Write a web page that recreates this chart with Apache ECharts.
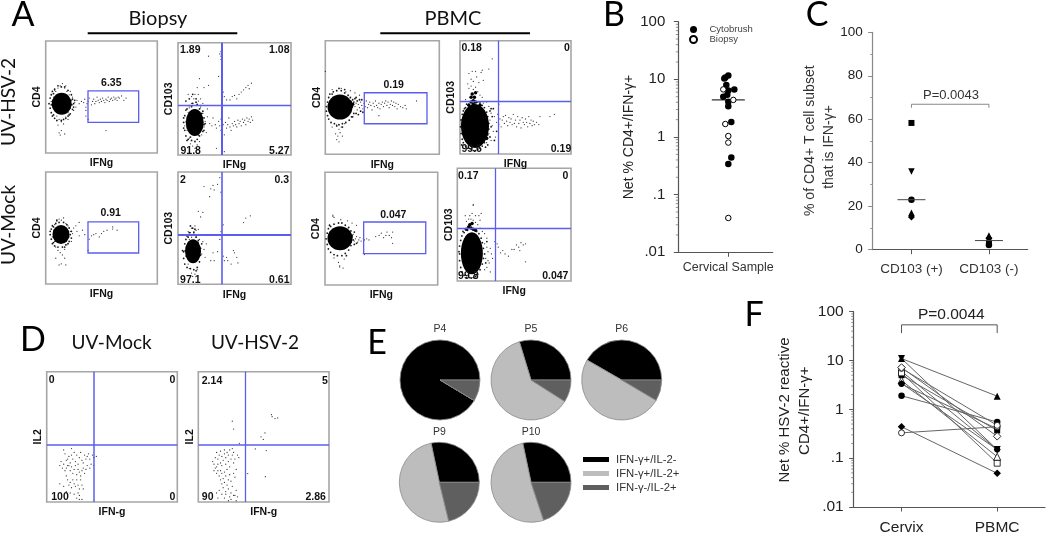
<!DOCTYPE html>
<html><head><meta charset="utf-8">
<style>html,body{margin:0;padding:0;background:#fff}#c{width:1050px;height:536px}</style>
<script src="https://cdn.jsdelivr.net/npm/echarts@6/dist/echarts.min.js"></script>
</head><body><div id="c"></div>
<script>
// ---------- flow panels: events, in percent of each plot box ----------
const a1Core=[[14.3,44]];
const a1Fringe=[[3,44],[4,40],[4,49],[5,36],[5,52],[6,33],[6,55],[8,31],[8,57],[10,29],[11,60],[14,29],[16,30],[18,31],[20,33],[22,35],[24,39],[24,48],[23,52],[20,56],[17,59],[14,59],[25,44],[26,47],[23,43],[25,41],[7,34],[5,43],[7,53],[21,34]];
const a1Dots=[[26,45],[28,47],[30,44],[32,46],[34,45],[35,48],[37,44],[38,46],[39,49],[41,43],[42,46],[43,48],[44,44],[45,46],[46,50],[47,47],[48,45],[49,48],[50,46],[51,49],[52,47],[53,45],[54,48],[55,47],[56,50],[57,46],[58,48],[59,49],[60,47],[61,50],[62,48],[63,49],[64,47],[65,50],[66,49],[68,51],[70,47],[72,49],[36,33],[38,30],[54,20],[6,42],[7,50],[8,38],[9,55],[10,33],[11,58],[12,30],[13,60],[14,28],[15,62],[16,26],[17,58],[18,32],[19,55],[20,36],[21,52],[22,40],[23,47],[24,43],[12,18],[13,16],[14,20],[17,17],[11,25],[25,38],[27,41],[5,46],[9,46],[22,55],[20,30],[18,60],[8,56],[24,50],[36,38],[36,41]];
const a2Core=[[14.8,29]];
const a2Fringe=[[5,29],[6,22],[6,35],[7,17],[7,40],[9,14],[10,44],[12,13],[13,46],[15,12],[17,14],[17,45],[19,17],[20,44],[22,21],[23,27],[23,33],[22,39],[5,33],[5,24],[8,13],[12,43],[16,47],[19,41],[21,37],[24,28],[8,41],[11,16],[18,18],[23,22],[13,54],[10,50],[16,50],[7,48]];
const a2Dots=[[7,30],[8,22],[9,38],[10,15],[10,42],[11,10],[12,46],[13,8],[14,50],[15,6],[16,44],[17,9],[18,48],[19,12],[20,42],[21,18],[22,37],[23,25],[24,30],[25,20],[26,34],[6,26],[8,44],[12,52],[15,54],[18,54],[20,50],[9,54],[17,60],[22,46],[24,44],[26,41],[28,28],[30,26],[31,33],[33,27],[34,24],[36,30],[37,26],[38,32],[38,22],[40,27],[41,18],[42,29],[43,24],[44,27],[45,33],[46,25],[47,22],[48,28],[49,26],[50,30],[51,27],[52,25],[53,31],[54,28],[55,30],[56,26],[57,32],[58,29],[59,31],[60,27],[61,33],[62,30],[63,32],[64,29],[65,34],[66,31],[34,6],[41,3],[27,62],[23,60],[19,68],[39,60],[40,56],[41,52],[39,50],[43,49],[46,49],[48,52],[50,53],[52,50],[54,54],[56,56],[58,58],[60,60],[62,62],[63,59],[65,64],[38,85],[38,88],[38,92],[37,90],[27,88],[36,70],[39,65]];
const a3Core=[[13.7,44.2]];
const a3Fringe=[[4,44],[5,40],[5,49],[6,36],[6,52],[8,34],[9,54],[11,33],[12,55],[15,33],[16,55],[18,35],[19,53],[21,38],[21,50],[22,44],[23,41],[23,47],[4,47],[7,51],[7,37],[10,57],[17,33],[20,36]];
const a3Dots=[[6,42],[7,48],[8,38],[8,53],[9,33],[10,56],[11,30],[12,58],[13,28],[14,57],[15,26],[16,59],[17,31],[18,54],[19,35],[20,52],[21,42],[22,47],[23,38],[24,45],[14,18],[12,17],[18,17],[25,50],[27,52],[28,47],[30,43],[30,55],[33,48],[35,44],[38,30],[39,40],[41,43],[43,44],[45,45],[48,42],[50,45],[52,47],[55,48],[60,49],[60,51],[64,48],[9,23],[17,23]];
const a4Core=[[13.3,29.4]];
const a4Fringe=[[5,29],[5,23],[6,36],[6,18],[7,40],[8,15],[9,42],[11,14],[12,44],[14,13],[16,42],[17,15],[18,39],[19,20],[20,32],[20,26],[21,36],[8,43],[10,46],[14,46],[4,30],[16,12],[13,50],[11,52],[15,49]];
const a4Dots=[[7,25],[8,34],[9,18],[10,40],[10,14],[11,46],[12,10],[12,50],[13,7],[14,47],[15,9],[15,52],[16,43],[17,13],[18,49],[19,20],[20,44],[21,27],[22,38],[23,31],[24,24],[25,36],[6,30],[9,47],[19,40],[12,42],[16,48],[18,37],[29,21],[31,28],[32,21],[35,29],[40,25],[41,21],[43,24],[44,21],[47,18],[50,28],[49,30],[52,24],[53,19],[38,47],[40,53],[37,40],[38,82],[23,87],[29,85],[31,88],[32,84],[28,78],[35,89],[37,95],[60,59],[58,55],[64,61],[20,60],[18,65],[22,64]];
const a5Core=[[12.9,41.6]];
const a5Mid=[[21,43],[23,42],[24,44],[20,40],[22,46]];
const a5Fringe=[[1,42],[1,38],[2,46],[2,34],[3,50],[3,31],[4,53],[5,28],[7,55],[8,27],[10,56],[12,26],[14,56],[15,27],[17,54],[18,28],[20,52],[21,30],[22,50],[23,33],[24,48],[25,36],[25,46],[26,49],[27,36],[28,47],[29,35],[30,48],[31,38],[32,48],[33,37],[27,50],[24,33],[6,53],[12,58],[17,57],[10,25],[15,24]];
const a5Dots=[[26,42],[27,45],[28,39],[29,44],[30,41],[31,46],[32,43],[33,40],[34,45],[35,42],[36,47],[37,41],[38,44],[39,46],[40,43],[41,39],[42,45],[43,42],[44,47],[45,43],[46,41],[47,45],[48,40],[49,44],[50,46],[51,42],[52,45],[53,47],[54,43],[55,46],[56,41],[57,44],[58,47],[59,43],[60,46],[61,42],[62,45],[63,40],[64,44],[66,42],[68,41],[70,43],[71,40],[80,47],[47,34],[6,57],[10,56],[14,58],[18,55],[22,56],[26,54],[30,52],[12,22],[13,19],[11,16],[10,13],[14,24],[15,16],[9,18],[12,11],[0,73],[6,24],[10,26],[17,27]];
const a6Core=[[13.5,24.7]];
const a6Mid=[[10,50],[13,50],[11,53],[14,54],[12,47],[10,46],[14,46],[8,43],[18,43],[12,44],[22,20],[23,28],[24,14]];
const a6Fringe=[[0.5,24],[1,18],[1,30],[2,13],[2,35],[3,10],[3,38],[5,7],[5,41],[7,5],[8,44],[10,4],[12,3],[14,3],[16,4],[18,5],[20,7],[22,10],[24,13],[25,17],[26,22],[26,27],[25,33],[24,37],[22,41],[20,43],[18,45],[16,46],[27,15],[28,24],[29,33],[6,44],[4,40],[23,6],[25,8],[1.5,8],[28,40],[27,38],[30,40],[31,12],[33,20]];
const a6Dots=[[8,58],[10,60],[12,57],[14,59],[16,55],[18,52],[20,50],[7,62],[10,66],[12,64],[15,68],[17,63],[19,72],[21,65],[11,73],[14,73],[20,74],[26,75],[29,84],[8,71],[5,48],[21,45],[24,46],[26,42],[28,36],[27,30],[29,25],[30,20],[31,33],[33,28],[34,35],[35,26],[36,31],[37,24],[38,30],[39,33],[40,27],[41,34],[42,29],[43,25],[44,32],[45,28],[46,31],[47,26],[48,35],[49,27],[50,30],[51,24],[52,33],[53,27],[54,30],[55,23],[56,32],[57,28],[58,26],[59,31],[60,28],[61,24],[62,33],[63,27],[64,30],[65,25],[66,29],[67,26],[69,28],[71,26],[72,33],[81,33],[85,35],[28,12],[32,15],[35,44],[24,10],[26,18]];
const a7Core=[[13.3,41.4]];
const a7Mid=[[22,41],[23,43],[22,38]];
const a7Fringe=[[1,41],[2,36],[2,46],[3,32],[3,50],[5,29],[5,52],[8,27],[8,54],[11,26],[12,55],[15,26],[15,55],[18,28],[18,53],[21,31],[21,51],[23,35],[23,48],[25,40],[24,44],[26,36],[26,47],[28,37],[4,53],[19,26]];
const a7Dots=[[24,42],[25,45],[26,39],[27,41],[28,43],[29,38],[30,40],[31,42],[32,39],[34,41],[35,40],[37,41],[39,40],[45,43],[48,44],[50,46],[52,42],[54,44],[55,47],[57,44],[59,42],[60,47],[60,37],[8,60],[14,58],[20,57],[8,24],[12,20],[13,17],[17,23],[13,16],[16,15],[7,61],[34,28],[35,27],[7,62],[28,53],[24,55]];
const a8Core=[[12.8,24.6]];
const a8Mid=[[10,48],[12,47],[14,46],[8,46],[16,45],[11,50],[13,51]];
const a8Fringe=[[2,24],[2,18],[2,31],[3,12],[3,36],[4,8],[4,40],[6,5],[6,43],[8,3],[9,45],[11,3],[14,3],[16,4],[18,6],[20,10],[22,15],[23,20],[23,29],[22,34],[21,38],[19,42],[17,44],[5,44],[1.5,26],[24,24],[25,16],[26,35]];
const a8Dots=[[8,53],[10,55],[12,55],[14,54],[16,52],[18,50],[7,58],[11,58],[13,60],[16,58],[19,58],[21,60],[14,67],[14,68],[20,54],[20,47],[22,44],[24,42],[26,38],[24,33],[26,30],[27,26],[25,20],[27,18],[29,29],[30,24],[28,16],[31,20],[33,35],[35,33],[36,30],[38,25],[40,27],[42,24],[45,22],[48,28],[50,28],[52,32],[54,30],[55,27],[56,34],[58,32],[60,33],[24,10],[26,12],[29,8],[60,17]];
const d1Dots=[[13,40],[14,37],[15,32],[16,28],[17,35],[18,30],[19,36],[20,33],[21,38],[22,31],[23,36],[24,29],[25,34],[26,38],[27,32],[28,30],[29,36],[30,33],[31,35],[32,37],[33,33],[34,29],[35,36],[10,28],[11,31],[12,26],[13,29],[14,24],[15,26],[16,33],[17,28],[18,24],[19,27],[20,22],[21,25],[22,28],[23,21],[24,25],[25,23],[26,20],[27,24],[28,26],[29,22],[30,25],[31,28],[33,26],[15,20],[16,17],[17,13],[18,15],[19,11],[20,17],[21,14],[22,12],[23,17],[24,13],[25,10],[26,17],[27,13],[28,10],[10,14],[13,12],[15,8],[18,7],[21,6],[24,7],[25,5],[27,2],[23,3],[25,2],[36,34],[19,41],[38,35],[36,28]];
const d2Dots=[[11,31],[12,29],[13,34],[14,38],[14,27],[15,33],[16,36],[17,30],[17,39],[18,28],[18,35],[19,32],[20,37],[20,40],[21,29],[21,34],[22,38],[23,31],[23,36],[24,27],[24,40],[25,33],[26,36],[27,30],[27,38],[28,33],[29,25],[30,36],[31,34],[12,24],[13,26],[14,22],[15,24],[15,29],[16,20],[17,24],[17,17],[18,22],[18,14],[19,18],[19,11],[20,23],[20,15],[21,20],[21,8],[22,25],[22,13],[23,17],[23,10],[24,21],[25,16],[25,7],[26,12],[27,22],[28,19],[28,5],[14,7],[16,9],[18,6],[20,3],[21,6],[23,1],[24,4],[25,2],[27,5],[29,9],[30,4],[29,1],[15,3],[26,41],[26,62],[27,56],[56,67],[58.7,64],[60.7,64.5],[56.5,65.5],[51,53],[48,50],[49.7,48],[31.4,45],[43.6,40.7],[52,39.5],[36.2,21.8],[37.8,21.8],[51.3,19.4]];

// ---------- B ----------
const bFilled=[[0,11.7],[-3,10.8],[-4,10.3],[6,6.7],[0,6.4],[-5,5],[0,4.1],[0,3.4],[3,1.82],[3,0.44],[0,0.34],[-1,5.4],[-2,8]];
const bOpen=[[-5,6.7],[5,4.4],[-3,1.68],[0,1.04],[0,0.8],[0,0.0394]];
const bStarred=[[3,0.44],[0,0.34],[0,0.0394]];
const bMedian=4.4;

// ---------- C ----------
const cCategories=['CD103 (+)','CD103 (-)'];
const cSquares=[58.3,3];
const cDown=[36,4];
const cCircles=[23,2.2];
const cUp=[17,6.5];
const cDiamonds=[15,5.3];
const cMedians=[23,4.2];

// ---------- E ----------
const eSlices=['IFN-γ+/IL-2-','IFN-γ+/IL-2+','IFN-γ-/IL-2+'];
const p4=[91.4,0,8.6], p5=[29.7,61.3,9], p6=[41.7,49.8,8.5], p9=[28.3,50.5,21.2], p10=[28.3,51.8,19.9];

// ---------- F ----------
const fCategories=['Cervix','PBMC'];
const fUp=[11,1.86], fDown=[11,0.15], fOpenCircle=[6.9,0.47], fOpenDiamond=[7.2,0.28], fSquare=[5,0.37], fOpenSquare=[5.6,0.079], fOpenUp=[3.9,0.107], fCircle=[1.9,0.55], fDiamond=[3.4,0.15], fCircle2=[6,0.15], fDiamond2=[0.44,0.049], fOpenCircle2=[0.33,0.44], fSquare2=[3.3,0.4];

const minorLog=[0.02,0.03,0.04,0.05,0.06,0.07,0.08,0.09,0.2,0.3,0.4,0.5,0.6,0.7,0.8,0.9,2,3,4,5,6,7,8,9,20,30,40,50,60,70,80,90];

const BLUE='#5c5cf0', ARIAL='"Liberation Sans",Arial,sans-serif', CAL='Lato,"Open Sans",sans-serif';
const grid=[],xAxis=[],yAxis=[],series=[],graphic=[];

function T(x,y,text,font,fill,rot){graphic.push({type:'text',x,y,rotation:rot?Math.PI/2:0,silent:true,z:50,
  style:{text,font,fill:fill||'#111',textAlign:'center',textVerticalAlign:'middle'}});}
function hline(x1,x2,y,w){graphic.push({type:'line',silent:true,z:50,shape:{x1,y1:y,x2,y2:y},style:{stroke:'#000',lineWidth:w}});}

function flow(c){
  const i=grid.length;
  grid.push({show:true,left:c.box[0],top:c.box[1],width:c.box[2],height:c.box[3],borderColor:'#a6a6a6',borderWidth:1.6,backgroundColor:'#fff'});
  const nameStyle={fontFamily:ARIAL,fontWeight:'bold',fontSize:10.5,color:'#111'};
  const base={type:'value',min:0,max:100,gridIndex:i,axisLine:{show:false},axisTick:{show:false},axisLabel:{show:false},splitLine:{show:false},nameLocation:'middle',nameTextStyle:nameStyle};
  xAxis.push({...base,name:c.x,nameGap:c.xGap||5});
  yAxis.push({...base,name:c.y,nameGap:c.yGap||3});
  const common={type:'scatter',xAxisIndex:i,yAxisIndex:i,silent:true};
  const s={...common,data:c.dots,symbolSize:1.25,itemStyle:{color:'#000',opacity:.8},z:3};
  if(c.quad){
    s.markLine={silent:true,symbol:'none',animation:false,z:9,label:{show:false},
      data:[{xAxis:c.quad[0],lineStyle:{color:BLUE,width:c.vw||1.5,type:'solid',opacity:1}},{yAxis:c.quad[1],lineStyle:{color:BLUE,width:c.hw||1.5,type:'solid',opacity:1}}]};
  }
  if(c.gate){
    s.markArea={silent:true,animation:false,z:9,label:{show:false},itemStyle:{color:'rgba(0,0,0,0)',borderColor:BLUE,borderWidth:1.3},
      data:[[{coord:[c.gate[0],c.gate[1]]},{coord:[c.gate[2],c.gate[3]]}]]};
  }
  series.push(s);
  if(c.fringe)series.push({...common,data:c.fringe,symbolSize:1.8,itemStyle:{color:'#000',opacity:.9},z:3});
  if(c.core)series.push({...common,data:c.core,symbolSize:c.coreSize,itemStyle:{color:'#000',opacity:1},z:4});
  if(c.mid)series.push({...common,data:c.mid,symbolSize:3.5,itemStyle:{color:'#000',opacity:1},z:4});
}

flow({box:[45.7,41,111.6,112],x:'IFNg',y:'CD4',core:a1Core,coreSize:[20,22],fringe:a1Fringe,dots:a1Dots,gate:[37.9,27.4,83.3,55.4]});
flow({box:[178,42.7,113,112.3],x:'IFNg',y:'CD103',core:a2Core,coreSize:[18,27],fringe:a2Fringe,dots:a2Dots,quad:[38.7,44.3],vw:2,hw:1.3});
flow({box:[45.7,172,111.6,112],x:'IFNg',y:'CD4',core:a3Core,coreSize:[17,19],fringe:a3Fringe,dots:a3Dots,gate:[37.9,27.7,83.3,55.4]});
flow({box:[178,172,113,112.3],x:'IFNg',y:'CD103',core:a4Core,coreSize:[16,24],fringe:a4Fringe,dots:a4Dots,quad:[38.7,44.2],vw:1.6,hw:2});
flow({box:[325.3,40.7,114,113.6],x:'IFNg',y:'CD4',core:a5Core,coreSize:[25,25],fringe:a5Fringe,mid:a5Mid,dots:a5Dots,gate:[34.2,26.9,89.2,54.2]});
flow({box:[460,40.7,111,113.3],x:'IFNg',y:'CD103',core:a6Core,coreSize:[28,44],fringe:a6Fringe,mid:a6Mid,dots:a6Dots,quad:[34.5,46.2],vw:1.3,hw:1.3});
flow({box:[325,172.3,112.7,112.7],x:'IFNg',y:'CD4',core:a7Core,coreSize:[25,24],fringe:a7Fringe,mid:a7Mid,dots:a7Dots,gate:[34.3,27.8,89.4,55.9]});
flow({box:[457.3,168.3,113.7,112.7],x:'IFNg',y:'CD103',core:a8Core,coreSize:[22,42],fringe:a8Fringe,mid:a8Mid,dots:a8Dots,quad:[33.8,46.8],vw:1.3,hw:1.3});
flow({box:[46.7,371.7,130.6,130.3],x:'IFN-g',y:'IL2',dots:d1Dots,quad:[36,44],vw:1.5,hw:1.5});
flow({box:[198.3,371.7,130.7,130.3],x:'IFN-g',y:'IL2',dots:d2Dots,quad:[36,44],vw:1.3,hw:1.5});

const LAB='bold 10.5px '+ARIAL;
[[111.3,82.7,'6.35'],[190.3,50.3,'1.89'],[279.3,50.3,'1.08'],[190.7,150.7,'91.8'],[279.3,150.7,'5.27'],
 [110.7,213.3,'0.91'],[183,180,'2'],[281.7,180,'0.3'],[190.3,280,'97.1'],[279.3,280,'0.61'],
 [393.7,84.7,'0.19'],[471.7,48.3,'0.18'],[567,48.3,'0'],[471.7,149.3,'99.6'],[561,149,'0.19'],
 [393.3,215,'0.047'],[468.3,175.7,'0.17'],[565.3,175.7,'0'],[468.3,275.7,'99.8'],[555.3,275.7,'0.047'],
 [51.7,380.3,'0'],[172.3,380.3,'0'],[60,496.7,'100'],[172.3,496.7,'0'],
 [212,380.7,'2.14'],[325,380.7,'5'],[207.7,497,'90'],[315.7,497,'2.86']].forEach(t=>T(t[0],t[1],t[2],LAB));

// headings
const HEAD='34px '+CAL;
[[23,15,'A'],[614,15,'B'],[817,15,'C'],[33,340,'D'],[377,343,'E'],[754,315,'F']].forEach(t=>T(t[0],t[1],t[2],HEAD,'#000'));
T(158,19,'Biopsy','20px '+CAL,'#111'); T(453,19,'PBMC','20px '+CAL,'#111');
hline(87.7,237.3,33.3,2); hline(380.3,530,33.3,2);
T(9,102,'UV-HSV-2','19px '+CAL,'#111',true);
T(9,225,'UV-Mock','19px '+CAL,'#111',true);
T(111.7,343.3,'UV-Mock','19px '+CAL,'#111'); T(255,343.3,'UV-HSV-2','19px '+CAL,'#111');

// minor ticks for a log axis, placed through the axis scale
function minor(i,catX){
  series.push({type:'custom',xAxisIndex:i,yAxisIndex:i,silent:true,z:1,data:minorLog.map(v=>[catX,v]),encode:{x:0,y:1},
    renderItem(p,api){const y=api.coord([api.value(0),api.value(1)])[1],x=p.coordSys.x;
      return {type:'line',shape:{x1:x-2.5,y1:y,x2:x,y2:y},style:{stroke:'#666',lineWidth:.7}};}});
}
// bracket placed through the axis scale
function bracket(i,cats,top,bottom,color){
  const d=[[cats[0],bottom],[cats[0],top],[cats[1],top],[cats[1],bottom]];
  series.push({type:'line',xAxisIndex:i,yAxisIndex:i,silent:true,data:d,symbol:'none',lineStyle:{color:color,width:1},z:2});
}
const axLine={show:true,onZero:false,lineStyle:{color:'#555',width:1.2}};
const tickSt={show:true,length:4.5,lineStyle:{color:'#555',width:1}};
const logFmt=v=>String(Number(Number(v).toPrecision(1))).replace(/^0/,'');

// --- B
let gi=grid.length;
grid.push({left:678.3,top:21.7,width:94.4,height:230.6});
xAxis.push({type:'value',gridIndex:gi,min:-50,max:44.4,splitLine:{show:false},axisLine:axLine,
  axisTick:{...tickSt,customValues:[0]},axisLabel:{customValues:[0],formatter:()=>'Cervical Sample',margin:9,fontFamily:ARIAL,fontSize:12.5,color:'#333'}});
yAxis.push({type:'log',logBase:10,gridIndex:gi,min:0.01,max:100,splitLine:{show:false},axisLine:axLine,axisTick:tickSt,minorTick:{show:false},
  axisLabel:{formatter:logFmt,margin:13,fontFamily:ARIAL,fontSize:15,color:'#222'},
  name:'Net % CD4+/IFN-γ+',nameLocation:'middle',nameGap:38,nameTextStyle:{fontFamily:ARIAL,fontSize:14,color:'#222'}});
minor(gi,-50);
series.push({name:'Median',type:'scatter',xAxisIndex:gi,yAxisIndex:gi,silent:true,data:[[0,bMedian]],symbol:'rect',symbolSize:[33,1.2],itemStyle:{color:'#333',opacity:1},z:2});
series.push({name:'Cytobrush',type:'scatter',xAxisIndex:gi,yAxisIndex:gi,silent:true,data:bFilled,symbol:'circle',symbolSize:6.5,itemStyle:{color:'#000',opacity:1},z:3});
series.push({name:'Biopsy',type:'scatter',xAxisIndex:gi,yAxisIndex:gi,silent:true,data:bOpen,symbol:'circle',symbolSize:5.5,itemStyle:{color:'#fff',borderColor:'#000',borderWidth:1,opacity:1},z:4});
series.push({name:'Starred',type:'scatter',xAxisIndex:gi,yAxisIndex:gi,silent:true,data:bStarred,symbol:'none',symbolSize:6,z:5,
  label:{show:true,position:'right',distance:1,formatter:'*',fontFamily:ARIAL,fontSize:8,color:'#222'}});

// --- C
gi=grid.length;
grid.push({left:872.7,top:32.3,width:155,height:217.4});
xAxis.push({type:'category',gridIndex:gi,data:cCategories,axisLine:axLine,axisTick:{...tickSt,alignWithLabel:true},
  axisLabel:{interval:0,hideOverlap:false,margin:13,fontFamily:ARIAL,fontSize:13.5,color:'#333'}});
yAxis.push({type:'value',gridIndex:gi,min:0,max:100,interval:20,splitLine:{show:false},axisLine:{show:true,onZero:false,lineStyle:{color:'#888',width:1.2}},axisTick:{...tickSt,lineStyle:{color:'#888'}},
  minorTick:{show:true,splitNumber:2,length:2.5,lineStyle:{color:'#999'}},minorSplitLine:{show:false},
  axisLabel:{margin:10,fontFamily:ARIAL,fontSize:13.5,color:'#222'}});
const cSym=(data,symbol,size,rot)=>series.push({type:'scatter',xAxisIndex:gi,yAxisIndex:gi,silent:true,data:data,symbol,symbolSize:size,symbolRotate:rot||0,itemStyle:{color:'#000',opacity:1},z:3});
cSym(cSquares,'rect',6);cSym(cDown,'triangle',6.5,180);cSym(cCircles,'circle',6.5);cSym(cUp,'triangle',6.5);cSym(cDiamonds,'diamond',7);
series.push({type:'scatter',xAxisIndex:gi,yAxisIndex:gi,silent:true,data:cMedians,symbol:'rect',symbolSize:[28,1],itemStyle:{color:'#444',opacity:1},z:4});
bracket(gi,cCategories,66.9,65.3,'#888');
T(951,95,'P=0.0043','13px '+ARIAL,'#333');
T(810,140.7,'% of CD4+ T cell subset','14px '+ARIAL,'#333',true);
T(829.3,147,'that is IFN-γ+','14px '+ARIAL,'#333',true);

// --- E pies
const pieColors=['#000000','#bdbdbd','#5f5f5f'];
[['P4',p4,440,380],['P5',p5,531,380],['P6',p6,621.7,380],['P9',p9,439.3,482.3],['P10',p10,531,482.3]].forEach(p=>{
  series.push({type:'pie',name:p[0],silent:true,center:[p[2],p[3]],radius:40,startAngle:0,clockwise:false,color:pieColors,
    label:{show:false},labelLine:{show:false},itemStyle:{borderColor:'#8a8a8a',borderWidth:.8},
    data:eSlices.map((n,k)=>({name:n,value:p[1][k]}))});
  T(p[2],p[3]-50.5,p[0],'10.5px '+ARIAL,'#333');
});

// --- F
gi=grid.length;
grid.push({left:853.7,top:311.7,width:191.3,height:197.6});
xAxis.push({type:'category',gridIndex:gi,data:fCategories,axisLine:axLine,axisTick:{...tickSt,alignWithLabel:true},
  axisLabel:{interval:0,hideOverlap:false,margin:13,fontFamily:ARIAL,fontSize:15.5,color:'#222'}});
yAxis.push({type:'log',logBase:10,gridIndex:gi,min:0.01,max:100,splitLine:{show:false},axisLine:axLine,axisTick:tickSt,minorTick:{show:false},
  axisLabel:{formatter:logFmt,margin:10,fontFamily:ARIAL,fontSize:15.5,color:'#222'}});
minor(gi,'Cervix');
const fLine=(d,sym,size,open,rot)=>series.push({type:'line',xAxisIndex:gi,yAxisIndex:gi,silent:true,data:d,symbol:sym,symbolSize:size,symbolRotate:rot||0,showAllSymbol:true,
  lineStyle:{color:'#666',width:1},itemStyle:{color:open?'#fff':'#000',borderColor:'#000',borderWidth:open?.8:0,opacity:1},z:3});
fLine(fDown,'triangle',7,false,180);fLine(fUp,'triangle',7);fLine(fCircle2,'circle',6);fLine(fSquare,'rect',6);fLine(fOpenSquare,'rect',6,true);
fLine(fOpenUp,'triangle',7,true);fLine(fDiamond,'diamond',7);fLine(fSquare2,'circle',6);fLine(fCircle,'circle',6.5);fLine(fDiamond2,'diamond',7.5);
fLine(fOpenCircle2,'circle',6,true);fLine(fOpenCircle,'circle',6,true);fLine(fOpenDiamond,'diamond',7.5,true);
bracket(gi,fCategories,53.8,36.5,'#555');
T(951.3,315,'P=0.0044','15.5px '+ARIAL,'#222');
T(785,410,'Net % HSV-2 reactive','15px '+ARIAL,'#222',true);
T(805,410.7,'CD4+/IFN-γ+','15px '+ARIAL,'#222',true);

const chart=echarts.init(document.getElementById('c'),null,{renderer:'canvas'});
chart.setOption({animation:false,backgroundColor:'#fff',grid,xAxis,yAxis,series,graphic,
  legend:[
    {left:578,top:449,padding:5,orient:'vertical',itemWidth:26,itemHeight:5,itemGap:3,icon:'rect',selectedMode:false,data:eSlices,itemStyle:{borderWidth:0},textStyle:{fontFamily:ARIAL,fontSize:11.3,color:'#333',padding:[0,0,0,2]}},
    {left:684,top:19.5,padding:5,orient:'vertical',itemWidth:10,itemHeight:7,itemGap:0,icon:'circle',selectedMode:false,data:['Cytobrush','Biopsy'],textStyle:{fontFamily:ARIAL,fontSize:9.5,lineHeight:10,color:'#444',padding:[0,0,0,6]}}
  ]});
</script></body></html>
